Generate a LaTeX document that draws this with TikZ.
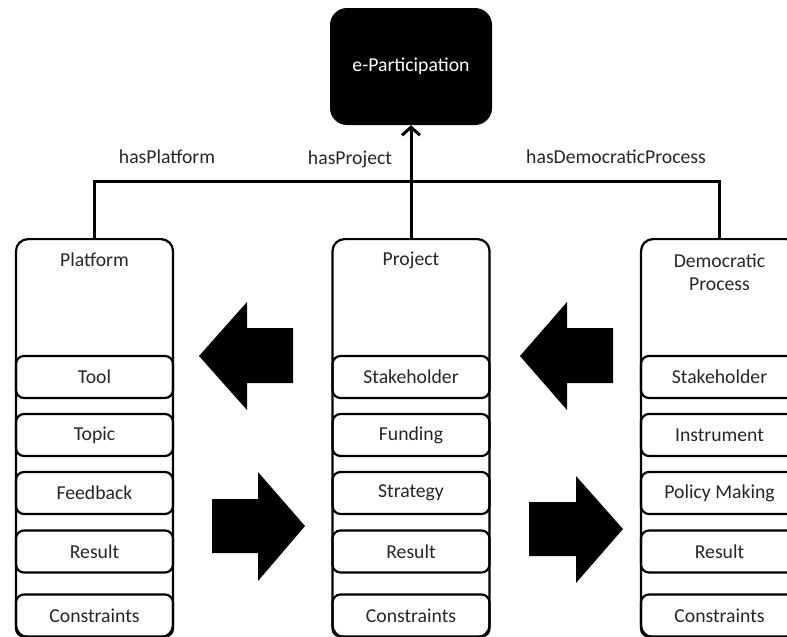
\documentclass[tikz,border=0pt]{standalone}
\usepackage{fontspec}
\setmainfont{Carlito}
\usetikzlibrary{arrows.meta}
\begin{document}
\begin{tikzpicture}[x=1pt,y=-1pt,
  every node/.style={font=\fontsize{19.7}{23}\selectfont, text=black!85},
  colbox/.style={draw=black, line width=2.2pt, rounded corners=12pt, minimum width=157pt, minimum height=398pt, anchor=north, inner sep=0pt},
  itembox/.style={draw=black, line width=2.2pt, rounded corners=8pt, minimum width=157pt, minimum height=42pt, inner sep=0pt},
  conn/.style={line width=3pt, draw=black},
  bigarrow/.style={fill=black, draw=none},
  lbl/.style={inner sep=0pt}
]
\useasboundingbox (0,0) rectangle (787,637);
\clip (0,0) rectangle (787,637);

% top node
\node[fill=black, rounded corners=17pt, minimum width=162pt, minimum height=117pt, text=white, inner sep=0pt] (ep) at (411,66.5) {e-Participation};

% columns
\node[colbox] (plat) at (94.5,238) {};
\node[colbox] (proj) at (411,238) {};
\node[colbox] (dem) at (719.5,238) {};

% titles
\node[lbl] (platT) at (94.5,260) {Platform};
\node[lbl] (projT) at (411,260) {Project};
\node[lbl, align=center] (demT) at (719.5,272) {Democratic\\Process};

% items
\foreach \c/\x in {plat/94.5, proj/411, dem/719.5}{
  \foreach \i/\y in {1/377, 2/435, 3/493, 4/551.5, 5/615.5}{
    \coordinate (\c-pos\i) at (\x,\y);
  }
}
\node[itembox] (plat1) at (plat-pos1) {Tool};
\node[itembox] (plat2) at (plat-pos2) {Topic};
\node[itembox] (plat3) at (plat-pos3) {Feedback};
\node[itembox] (plat4) at (plat-pos4) {Result};
\node[itembox] (plat5) at (plat-pos5) {Constraints};

\node[itembox] (proj1) at (proj-pos1) {Stakeholder};
\node[itembox] (proj2) at (proj-pos2) {Funding};
\node[itembox] (proj3) at (proj-pos3) {Strategy};
\node[itembox] (proj4) at (proj-pos4) {Result};
\node[itembox] (proj5) at (proj-pos5) {Constraints};

\node[itembox] (dem1) at (dem-pos1) {Stakeholder};
\node[itembox] (dem2) at (dem-pos2) {Instrument};
\node[itembox] (dem3) at (dem-pos3) {Policy Making};
\node[itembox] (dem4) at (dem-pos4) {Result};
\node[itembox] (dem5) at (dem-pos5) {Constraints};

% connectors
\coordinate (bus) at (411,181);
\draw[conn] (plat.north) -- (plat.north |- bus) -- (dem.north |- bus) -- (dem.north);
\draw[conn, -{Straight Barb[length=8pt,width=18pt]}] (proj.north) -- (ep.south);

% labels
\node[lbl] (lplat) at (167,157) {hasPlatform};
\node[lbl] (lproj) at (350,159) {hasProject};
\node[lbl] (ldem) at (616,157) {hasDemocraticProcess};

% big arrows
\fill[bigarrow] (199,356) -- (247,302) -- (247,328) -- (293,328) -- (293,383) -- (247,383) -- (247,410) -- cycle;
\fill[bigarrow] (305,526) -- (258,472) -- (258,499) -- (212,499) -- (212,553) -- (258,553) -- (258,581) -- cycle;
\fill[bigarrow] (520,356) -- (567,302) -- (567,328) -- (613,328) -- (613,383) -- (567,383) -- (567,410) -- cycle;
\fill[bigarrow] (623,529) -- (576,476) -- (576,502) -- (529,502) -- (529,556) -- (576,556) -- (576,583) -- cycle;
\end{tikzpicture}
\end{document}
